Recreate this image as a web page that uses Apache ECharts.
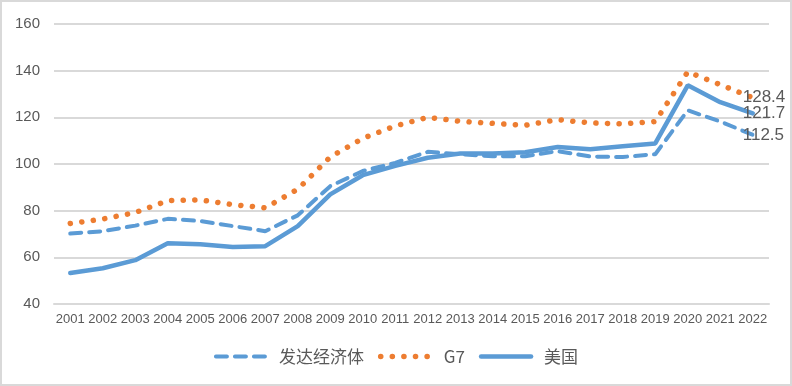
<!DOCTYPE html>
<html><head><meta charset="utf-8">
<script src="https://cdn.jsdelivr.net/npm/echarts@6/dist/echarts.min.js"></script>
<style>html,body{margin:0;padding:0;background:#fff}#c{width:792px;height:386px;box-sizing:border-box;border:2px solid #d9d9d9}</style>
</head><body><div id="c"></div>
<script>
const years = ['2001','2002','2003','2004','2005','2006','2007','2008','2009','2010','2011','2012','2013','2014','2015','2016','2017','2018','2019','2020','2021','2022'];
const developed = [70.2,71.2,73.6,76.5,75.6,73.4,71.2,78.0,90.5,97.0,100.5,105.2,104.2,103.3,103.3,105.5,103.2,103.0,104.2,123.0,118.2,112.5];
const g7 = [74.5,76.4,79.2,84.3,84.6,82.6,81.2,89.2,103.0,111.0,116.3,120.0,118.3,117.4,116.6,119.0,117.6,117.2,118.2,139.5,134.0,128.4];
const usa = [53.3,55.3,58.8,66.0,65.6,64.4,64.8,73.4,87.0,95.2,99.2,102.7,104.5,104.5,105.0,107.3,106.3,107.6,108.8,133.7,126.5,121.7];
const names = ['发达经济体','G7','美国'];

const chart = echarts.init(document.getElementById('c'));
const endLbl = {show:true,formatter:p=>p.value[1]!==undefined?p.value[1]:p.value,distance:0,offset:[-10,0],color:'#595959',fontSize:17,fontFamily:'Liberation Sans, Arial'};
chart.setOption({
  animation:false,
  grid:{left:52,right:21,top:22,bottom:80},
  legend:{bottom:14,left:'center',itemWidth:50,itemHeight:10,itemGap:14,
    itemStyle:{opacity:0},
    textStyle:{color:'#595959',fontSize:17,fontFamily:'Noto Sans CJK SC',padding:[0,0,0,8]},
    data:[{name:names[0],lineStyle:{width:4}},{name:names[1],lineStyle:{width:5.5}},{name:names[2],lineStyle:{width:4.5}}]},
  xAxis:{type:'category',data:years,boundaryGap:true,
    axisLine:{lineStyle:{color:'#d9d9d9',width:2}},axisTick:{show:false},
    axisLabel:{interval:0,color:'#595959',fontSize:13,fontFamily:'Liberation Sans, Arial',margin:9}},
  yAxis:{type:'value',min:40,max:160,interval:20,
    axisLine:{show:false},axisTick:{show:false},
    splitLine:{lineStyle:{color:'#d9d9d9',width:2}},
    axisLabel:{color:'#595959',fontSize:15,fontFamily:'Liberation Sans, Arial',margin:14}},
  series:[
    {name:names[0],type:'line',data:developed,symbol:'none',z:3,endLabel:endLbl,
     lineStyle:{color:'#5B9BD5',width:4,type:[11,8],cap:'round'},itemStyle:{color:'#5B9BD5'}},
    {name:names[1],type:'line',data:g7,symbol:'none',z:2,endLabel:endLbl,
     lineStyle:{color:'#ED7D31',width:5.5,type:[0.1,11.5],cap:'round'},itemStyle:{color:'#ED7D31'}},
    {name:names[2],type:'line',data:usa,symbol:'none',z:4,endLabel:endLbl,
     lineStyle:{color:'#5B9BD5',width:4.5,cap:'round'},itemStyle:{color:'#5B9BD5'}}
  ]
});
</script></body></html>
